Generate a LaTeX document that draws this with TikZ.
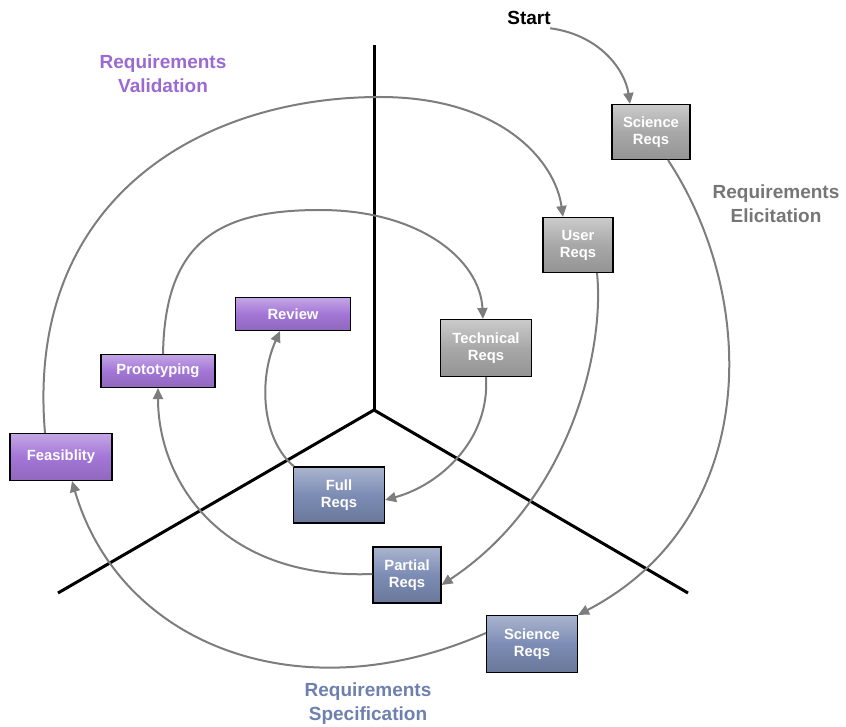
\documentclass[tikz,border=0pt]{standalone}
\usepackage{fontspec}
\setmainfont{Liberation Sans}
\usetikzlibrary{arrows.meta, calc}
\definecolor{reqGray}{RGB}{168,168,168}
\definecolor{reqPurple}{RGB}{163,118,215}
\definecolor{reqBlue}{RGB}{124,140,180}
\definecolor{lblPurple}{RGB}{155,105,210}
\definecolor{lblGray}{RGB}{118,118,118}
\definecolor{lblBlue}{RGB}{110,128,175}
\definecolor{arrGray}{RGB}{125,125,125}
\tikzset{
	reqbox/.style={rectangle, draw=black, line width=1.1pt, align=center,
		text=white, font=\fontsize{14.8}{17}\selectfont\bfseries, inner sep=0pt},
	graybox/.style={reqbox, top color=reqGray!60!white, bottom color=reqGray!88!black, middle color=reqGray},
	purplebox/.style={reqbox, top color=reqPurple!65!white, bottom color=reqPurple!88!black, middle color=reqPurple},
	bluebox/.style={reqbox, top color=reqBlue!65!white, bottom color=reqBlue!85!black, middle color=reqBlue},
	spiral/.style={-{Triangle[length=11pt,width=10pt]}, line width=2pt, draw=arrGray},
	axisline/.style={line width=3pt, draw=black},
	phase/.style={font=\fontsize{19}{24}\selectfont\bfseries, align=center}
}
\begin{document}
\begin{tikzpicture}[x=1pt, y=-1pt]
	\useasboundingbox (0,0) rectangle (846,727);
	% axes
	\coordinate (hub) at (374,410);
	\coordinate (axN) at (374,45);
	\coordinate (axL) at (58,593);
	\coordinate (axR) at (688,593);
	\foreach \e in {axN, axL, axR}
		\draw[axisline] (hub) -- (\e);
	% phase labels
	\node[phase] (start) at (529,18) {Start};
	\node[phase, text=lblPurple] (valid) at (163,74) {Requirements\\Validation};
	\node[phase, text=lblGray] (elicit) at (776,204) {Requirements\\Elicitation};
	\node[phase, text=lblBlue] (spec) at (368,704) {Requirements\\Specification};
	% boxes
	\node[graybox, minimum width=78, minimum height=55] (sciE) at (651,132) {Science\\Reqs};
	\node[graybox, minimum width=70, minimum height=55] (user) at (578,245) {User\\Reqs};
	\node[graybox, minimum width=91, minimum height=57] (tech) at (486,348) {Technical\\Reqs};
	\node[purplebox, minimum width=115, minimum height=33] (review) at (293,314) {Review};
	\node[purplebox, minimum width=114, minimum height=33] (proto) at (158,371) {Prototyping};
	\node[purplebox, minimum width=102, minimum height=47] (feas) at (61,457) {Feasiblity};
	\node[bluebox, minimum width=91, minimum height=56] (full) at (339,495) {Full\\Reqs};
	\node[bluebox, minimum width=68, minimum height=56] (partial) at (407,575) {Partial\\Reqs};
	\node[bluebox, minimum width=91, minimum height=57] (sciS) at (532,644) {Science\\Reqs};
	% spiral
	\draw[spiral] ([xshift=-4]start.south east) .. controls (600,35) and (625,70) .. ([xshift=-21]sciE.north);
	\draw[spiral] ([xshift=17]sciE.south) .. controls (760,300) and (760,520) .. (sciS.north east);
	\draw[spiral] ([yshift=11]sciS.west) .. controls (300,715) and (120,645) .. ([xshift=11]feas.south);
	\draw[spiral] ([xshift=-16]feas.north) .. controls (25,200) and (200,97) .. (380,97)
		.. controls (500,97) and (555,160) .. ([xshift=-15]user.north);
	\draw[spiral] ([xshift=19]user.south) .. controls (605,350) and (570,500) .. ([yshift=-10]partial.east);
	\draw[spiral] ([yshift=1]partial.west) .. controls (220,580) and (158,480) .. (proto.south);
	\draw[spiral] ([xshift=5]proto.north) .. controls (165,240) and (220,210) .. (320,210)
		.. controls (420,210) and (480,260) .. ([xshift=-3]tech.north);
	\draw[spiral] (tech.south) .. controls (490,440) and (440,485) .. ([yshift=-5]full.east);
	\draw[spiral] ([xshift=-45]full.north) .. controls (262,440) and (258,380) .. ([xshift=-13]review.south);
\end{tikzpicture}
\end{document}
